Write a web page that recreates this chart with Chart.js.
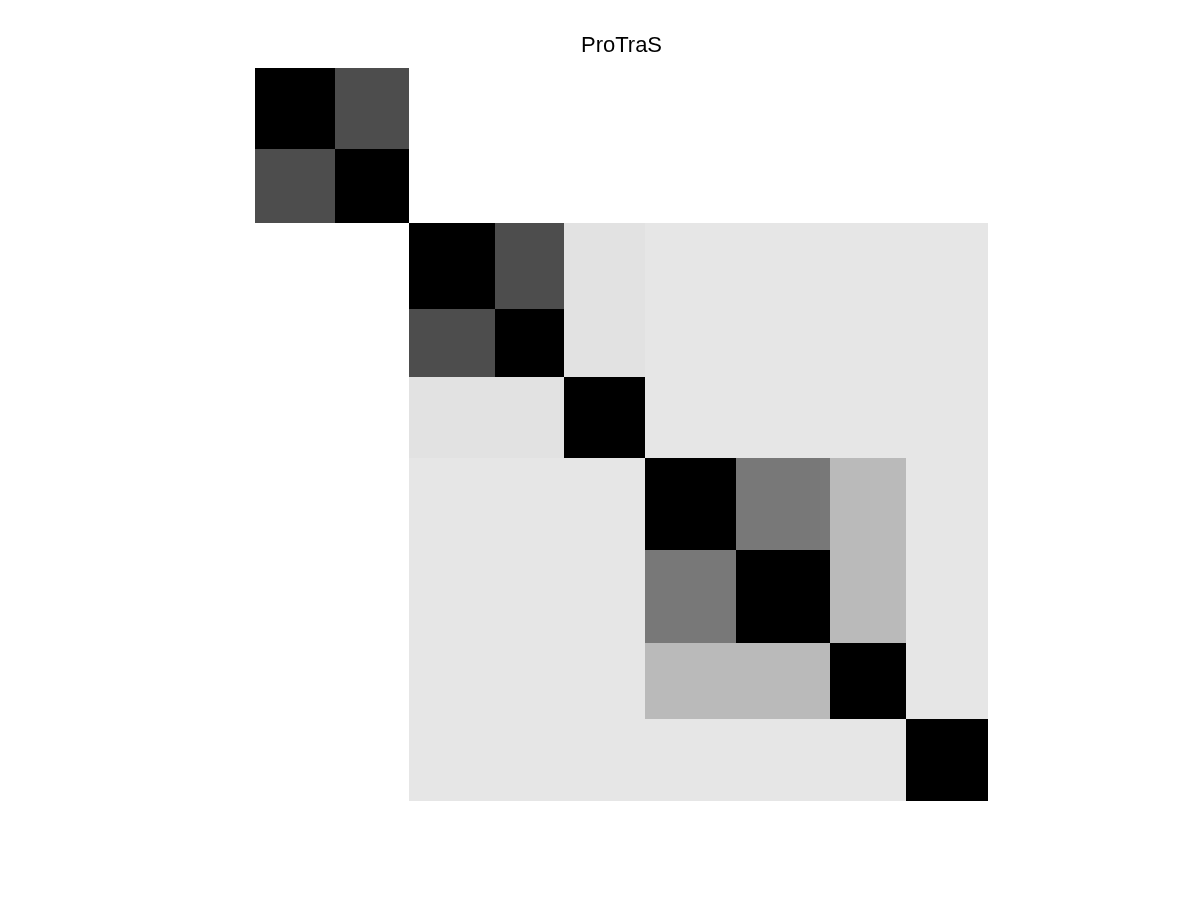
<!DOCTYPE html>
<html>
<head>
<meta charset="utf-8">
<script src="https://cdn.jsdelivr.net/npm/chart.js@4.4.1/dist/chart.umd.min.js"></script>
<style>
  html, body { margin: 0; padding: 0; background: #ffffff; }
  #wrap { width: 1200px; height: 900px; }
</style>
</head>
<body>
<div id="wrap"><canvas id="c" width="1200" height="900"></canvas></div>
<script>
// Block boundaries (in item units along each axis)
const colEdges = [0, 80, 154, 240, 309, 390, 481, 575, 651, 733];
const rowEdges = [0, 80.5, 154.5, 240.5, 309, 390, 481.5, 575, 651, 733];
// Block similarity values (0 = white, 1 = black)
const row1 = [1.00, 0.70, 0, 0, 0, 0, 0, 0, 0];
const row2 = [0.70, 1.00, 0, 0, 0, 0, 0, 0, 0];
const row3 = [0, 0, 1.00, 0.70, 0.115, 0.10, 0.10, 0.10, 0.10];
const row4 = [0, 0, 0.70, 1.00, 0.115, 0.10, 0.10, 0.10, 0.10];
const row5 = [0, 0, 0.115, 0.115, 1.00, 0.10, 0.10, 0.10, 0.10];
const row6 = [0, 0, 0.10, 0.10, 0.10, 1.00, 0.53, 0.27, 0.10];
const row7 = [0, 0, 0.10, 0.10, 0.10, 0.53, 1.00, 0.27, 0.10];
const row8 = [0, 0, 0.10, 0.10, 0.10, 0.27, 0.27, 1.00, 0.10];
const row9 = [0, 0, 0.10, 0.10, 0.10, 0.10, 0.10, 0.10, 1.00];
const matrixRows = [row1, row2, row3, row4, row5, row6, row7, row8, row9];
const titleText = 'ProTraS';

function grayFor(v) {
  const g = Math.round(255 * (1 - v));
  return 'rgb(' + g + ',' + g + ',' + g + ')';
}

// Build cell records from the arrays
const cells = [];
matrixRows.forEach((r, i) => {
  r.forEach((v, j) => {
    cells.push({ x0: colEdges[j], x1: colEdges[j + 1], y0: rowEdges[i], y1: rowEdges[i + 1], v: v });
  });
});

const matrixPlugin = {
  id: 'matrixCells',
  beforeDatasetsDraw(chart) {
    const ctx = chart.ctx;
    const xs = chart.scales.x, ys = chart.scales.y;
    ctx.save();
    chart.data.datasets[0].data.forEach(c => {
      const left = Math.round(xs.getPixelForValue(c.x0));
      const right = Math.round(xs.getPixelForValue(c.x1));
      const top = Math.round(ys.getPixelForValue(c.y0));
      const bottom = Math.round(ys.getPixelForValue(c.y1));
      ctx.fillStyle = grayFor(c.v);
      ctx.fillRect(left, top, right - left, bottom - top);
    });
    ctx.restore();
  }
};

new Chart(document.getElementById('c'), {
  type: 'scatter',
  data: {
    datasets: [{
      data: cells.map(c => ({ x: (c.x0 + c.x1) / 2, y: (c.y0 + c.y1) / 2, x0: c.x0, x1: c.x1, y0: c.y0, y1: c.y1, v: c.v })),
      pointRadius: 0,
      pointHoverRadius: 0
    }]
  },
  options: {
    responsive: false,
    animation: false,
    devicePixelRatio: 1,
    layout: { padding: { left: 255, right: 212, top: 0, bottom: 99 } },
    plugins: {
      legend: { display: false },
      tooltip: { enabled: false },
      title: {
        display: true,
        text: titleText,
        color: '#000000',
        font: { family: 'Liberation Sans, Arial, sans-serif', size: 22, weight: 'normal', lineHeight: 1.2 },
        padding: { top: 32.5, bottom: 9.1 }
      }
    },
    scales: {
      x: { type: 'linear', min: 0, max: 733, display: false },
      y: { type: 'linear', min: 0, max: 733, reverse: true, display: false }
    }
  },
  plugins: [matrixPlugin]
});
</script>
</body>
</html>
